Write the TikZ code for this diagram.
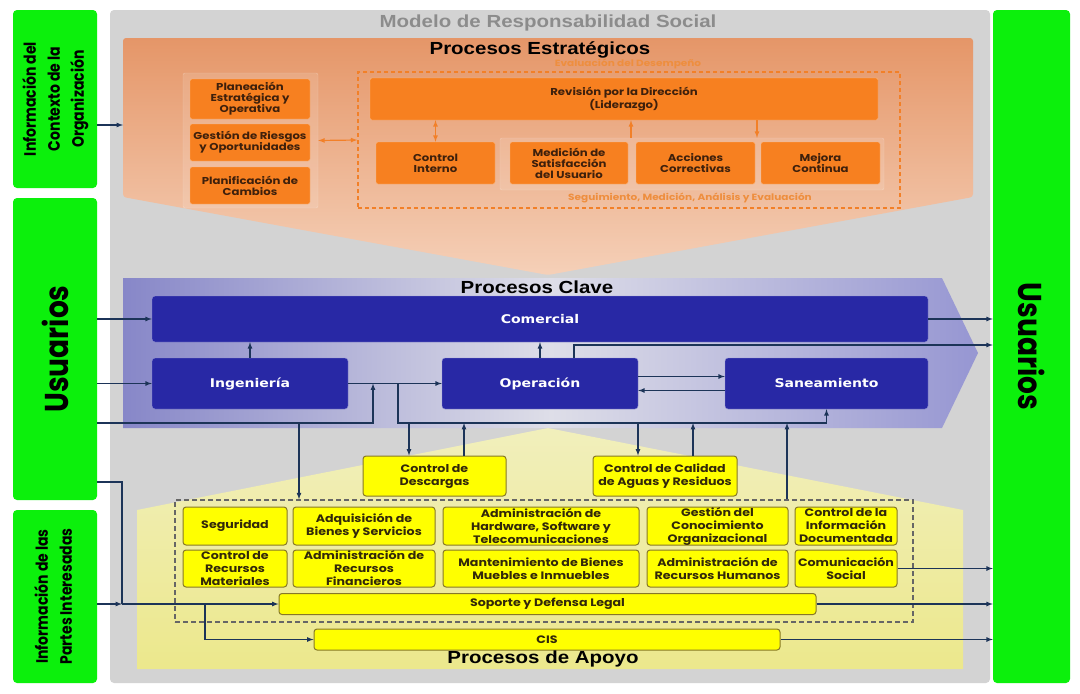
\documentclass[tikz,border=0pt]{standalone}
\usepackage{fontspec}
\usetikzlibrary{arrows}
\newfontfamily\headfont{Liberation Sans}[FakeStretch=1.17]
\newfontfamily\boxfont{Poppins}[FakeStretch=1.17]
\newfontfamily\bluefont{DejaVu Sans}[FakeStretch=1.17]
\newfontfamily\sidefont{Poppins}[FakeStretch=0.85]

\definecolor{bggray}{RGB}{211,211,211}
\definecolor{sidegreen}{RGB}{12,240,12}
\definecolor{navy}{RGB}{28,52,88}
\definecolor{oranbox}{RGB}{247,128,32}
\definecolor{orantext}{RGB}{62,32,12}
\definecolor{oranline}{RGB}{242,128,40}
\definecolor{oranlabel}{RGB}{238,142,62}
\definecolor{bluebox}{RGB}{40,40,165}
\definecolor{yelbox}{RGB}{255,255,0}
\definecolor{yeldraw}{RGB}{135,120,40}
\definecolor{yeltext}{RGB}{50,40,10}

\begin{document}
\begin{tikzpicture}[x=1pt,y=-1pt,>=latex,
    wh/.style 2 args={minimum width=#1pt,minimum height=#2pt},
    gbox/.style={rectangle,rounded corners=4pt,fill=sidegreen,inner sep=0pt},
    obox/.style={rectangle,rounded corners=2pt,fill=oranbox,draw=oranbox!55!white,
      inner sep=1pt,align=center,text=orantext,
      font=\boxfont\bfseries\fontsize{10}{11}\selectfont},
    bbox/.style={rectangle,rounded corners=3pt,fill=bluebox,draw=bluebox!50!white,
      text=white,font=\bluefont\bfseries\fontsize{12}{13}\selectfont},
    ybox/.style={rectangle,rounded corners=3pt,fill=yelbox,draw=yeldraw,line width=1pt,
      inner sep=0pt,align=center,text=yeltext,
      font=\boxfont\bfseries\fontsize{10.8}{13}\selectfont},
    panel/.style={rectangle,rounded corners=2pt,fill=white,fill opacity=0.12,
      draw=white,draw opacity=0.3},
    head/.style={inner sep=0pt,font=\headfont\bfseries\fontsize{17.5}{20}\selectfont},
    olabel/.style={inner sep=0pt,text=oranlabel,font=\boxfont\bfseries\fontsize{9}{11}\selectfont},
    link/.style={->,draw=navy,line width=1.2pt},
    line/.style={draw=navy,line width=1.2pt},
    oarrow/.style={draw=oranline,line width=1.2pt}]

  \useasboundingbox (0,0) rectangle (1080,694);
  \fill[white] (0,0) rectangle (1080,694);

  % marco general
  \node[rectangle,rounded corners=4pt,fill=bggray,wh={880}{673}] (modelo) at (550,346.5) {};
  \node[head,text=black!45] (modelo-t) at (548,23) {Modelo de Responsabilidad Social};

  % entradas y salidas
  \node[gbox,wh={84}{178}] (ctx) at (55,99)
    {\rotatebox{90}{\sidefont\bfseries\fontsize{16.5}{24}\selectfont
      \begin{tabular}{@{}c@{}}Información del\\Contexto de la\\Organización\end{tabular}}};
  \node[gbox,wh={84}{302}] (usrL) at (55,349)
    {\rotatebox{90}{\sidefont\bfseries\fontsize{33}{36}\selectfont Usuarios}};
  \node[gbox,wh={84}{173}] (partes) at (55,596.5)
    {\rotatebox{90}{\sidefont\bfseries\fontsize{16.5}{24}\selectfont
      \begin{tabular}{@{}c@{}}Información de las\\Partes Interesadas\end{tabular}}};
  \node[gbox,wh={77}{673}] (usrR) at (1031.5,346.5)
    {\rotatebox{-90}{\sidefont\bfseries\fontsize{33}{36}\selectfont Usuarios}};

  % procesos estrategicos
  \shade[rounded corners=3pt,top color={rgb,255:red,229;green,150;blue,104},
    bottom color={rgb,255:red,245;green,208;blue,184}]
    (123,38) -- (973,38) -- (973,197) -- (548,275) -- (123,197) -- cycle;
  \node[head] (estr-t) at (540,50) {Procesos Estratégicos};
  \node[olabel] (evdes) at (628,64) {Evaluación del Desempeño};

  \node[panel,wh={135}{135}] (planpanel) at (250.5,140.5) {};
  \node[obox,wh={120}{40}] (plan) at (250,99) {Planeación\\Estratégica y\\Operativa};
  \node[obox,wh={120}{37}] (riesgos) at (250,142.5) {Gestión de Riesgos\\y Oportunidades};
  \node[obox,wh={120}{37}] (cambios) at (250,185.5) {Planificación de\\Cambios};

  \node[draw=oranline,line width=1.5pt,dash pattern=on 4pt off 3pt,wh={542}{136}] (evalframe) at (629,140) {};
  \node[obox,wh={508}{42}] (revision) at (624,99) {Revisión por la Dirección\\(Liderazgo)};
  \node[panel,wh={384}{52}] (subpanel) at (692,164) {};
  \node[obox,wh={119}{42}] (control) at (435.5,163) {Control\\Interno};
  \node[obox,wh={118}{42}] (medicion) at (569,163) {Medición de\\Satisfacción\\del Usuario};
  \node[obox,wh={119}{42}] (acciones) at (695.5,163) {Acciones\\Correctivas};
  \node[obox,wh={119}{42}] (mejora) at (820.5,163) {Mejora\\Continua};
  \node[olabel] (segui) at (690,198) {Seguimiento, Medición, Análisis y Evaluación};

  \coordinate (revup) at (631,150);
  \coordinate (revdn) at (757,150);
  \draw[oarrow,<->] (planpanel.east) -- (evalframe.west);
  \draw[oarrow,<->] (control.north) -- (control.north |- revision.south);
  \draw[oarrow,->] (revup |- subpanel.north) -- (revup |- revision.south);
  \draw[oarrow,->] (revdn |- revision.south) -- (revdn |- subpanel.north);

  % procesos de apoyo (fondo)
  \shade[top color={rgb,255:red,241;green,239;blue,188},
    bottom color={rgb,255:red,236;green,232;blue,140}]
    (137,510) -- (548,428) -- (963,510) -- (963,669) -- (137,669) -- cycle;

  % procesos clave
  \shade[left color={rgb,255:red,135;green,135;blue,200},
    right color={rgb,255:red,150;green,150;blue,210},
    middle color={rgb,255:red,222;green,222;blue,232}]
    (123,278) -- (942,278) -- (978,353) -- (942,428) -- (123,428) -- cycle;
  \node[head] (clave-t) at (537,287) {Procesos Clave};

  \node[bbox,wh={776}{46}] (comercial) at (540,319) {Comercial};
  \node[bbox,wh={196}{51}] (ingenieria) at (250,383.5) {Ingeniería};
  \node[bbox,wh={196}{51}] (operacion) at (540,383.5) {Operación};
  \node[bbox,wh={203}{51}] (saneamiento) at (826.5,383.5) {Saneamiento};

  % apoyo
  \node[ybox,wh={143}{40}] (descargas) at (434.5,476) {Control de\\Descargas};
  \node[ybox,wh={144}{40}] (calidad) at (665,476) {Control de Calidad\\de Aguas y Residuos};
  \node[draw=black!60,line width=1.5pt,dash pattern=on 5pt off 3pt,wh={738}{122}] (apoyo) at (544,561) {};

  \node[ybox,wh={104}{38}] (seguridad) at (235,526) {Seguridad};
  \node[ybox,wh={142}{38}] (adquisicion) at (364,526) {Adquisición de\\Bienes y Servicios};
  \node[ybox,wh={196}{38}] (hardware) at (541,526) {Administración de\\Hardware, Software y\\Telecomunicaciones};
  \node[ybox,wh={141}{38}] (conocimiento) at (717.5,526) {Gestión del\\Conocimiento\\Organizacional};
  \node[ybox,wh={102}{38}] (documentada) at (846,526) {Control de la\\Información\\Documentada};

  \node[ybox,wh={104}{37}] (materiales) at (235,568.5) {Control de\\Recursos\\Materiales};
  \node[ybox,wh={142}{37}] (financieros) at (364,568.5) {Administración de\\Recursos\\Financieros};
  \node[ybox,wh={196}{37}] (mantenimiento) at (541,568.5) {Mantenimiento de Bienes\\Muebles e Inmuebles};
  \node[ybox,wh={141}{37}] (humanos) at (717.5,568.5) {Administración de\\Recursos Humanos};
  \node[ybox,wh={102}{37}] (comunicacion) at (846,568.5) {Comunicación\\Social};

  \node[ybox,wh={537}{21}] (soporte) at (547.5,604) {Soporte y Defensa Legal};
  \node[ybox,wh={466}{21}] (cis) at (547,639.5) {CIS};
  \node[head] (apoyo-t) at (543,659) {Procesos de Apoyo};

  % conexiones
  \coordinate (estrin) at (123,125);
  \draw[link] (ctx.east |- estrin) -- (estrin);

  \draw[link] (usrL.east |- comercial.west) -- (comercial.west);
  \draw[link] (usrL.east |- ingenieria.west) -- (ingenieria.west);
  \coordinate (usrbus) at (373,423);
  \draw[link] (usrL.east |- usrbus) -| (usrbus |- ingenieria.east);
  \coordinate (tapseg) at (299,423);
  \draw[link] (tapseg) -- (tapseg |- apoyo.north);

  \draw[link] (ingenieria.north) -- (ingenieria.north |- comercial.south);
  \draw[link] (ingenieria.east) -- (operacion.west);
  \coordinate (opbus) at (398,423);
  \draw[link] (opbus |- ingenieria.east) |- (saneamiento.south |- opbus) -- (saneamiento.south);

  \coordinate (tapdesA) at (409,423);
  \coordinate (tapdesB) at (464,423);
  \coordinate (tapcalA) at (638,423);
  \coordinate (tapcalB) at (693,423);
  \coordinate (tapapo) at (787,423);
  \draw[link] (tapdesA) -- (tapdesA |- descargas.north);
  \draw[link] (tapdesB |- descargas.north) -- (tapdesB);
  \draw[link] (tapcalA) -- (tapcalA |- calidad.north);
  \draw[link] (tapcalB |- calidad.north) -- (tapcalB);
  \draw[link] (tapapo |- apoyo.north) -- (tapapo);

  \draw[link] (operacion.north) -- (operacion.north |- comercial.south);
  \coordinate (opout) at (574,345);
  \draw[link] (opout |- operacion.north) |- (usrR.west |- opout);
  \draw[link] (comercial.east) -- (usrR.west |- comercial.east);
  \draw[link] ([yshift=7pt]operacion.east) -- ([yshift=7pt]saneamiento.west);
  \draw[link] ([yshift=-7pt]saneamiento.west) -- ([yshift=-7pt]operacion.east);

  \coordinate (usrpar) at (122,482);
  \coordinate (parbus) at (122,604);
  \coordinate (cisbus) at (205,604);
  \draw[line] (usrL.east |- usrpar) -| (parbus);
  \draw[link] (partes.east |- parbus) -- (parbus);
  \draw[link] (parbus) -- (soporte.west);
  \draw[link] (cisbus) |- (cis.west);

  \draw[link] (comunicacion.east) -- (usrR.west |- comunicacion.east);
  \draw[link] (soporte.east) -- (usrR.west |- soporte.east);
  \draw[link] (cis.east) -- (usrR.west |- cis.east);
\end{tikzpicture}
\end{document}
